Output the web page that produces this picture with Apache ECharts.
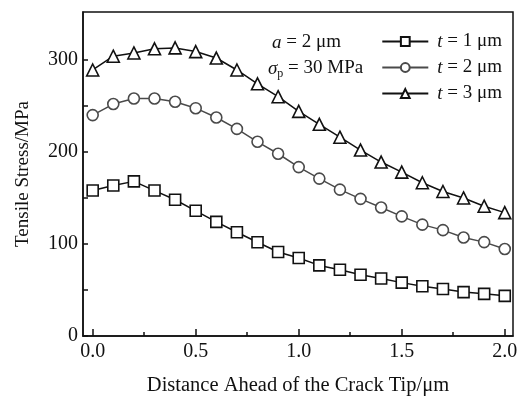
<!DOCTYPE html>
<html>
<head>
<meta charset="utf-8">
<script src="https://cdn.jsdelivr.net/npm/echarts@6/dist/echarts.min.js"></script>
<style>html,body{margin:0;padding:0;background:#fff;}#c{width:522px;height:397px;}</style>
</head>
<body>
<div id="c"></div>
<script>
const xValues = [0.0,0.1,0.2,0.3,0.4,0.5,0.6,0.7,0.8,0.9,1.0,1.1,1.2,1.3,1.4,1.5,1.6,1.7,1.8,1.9,2.0];
const t1 = [158,163.5,168,158,148,136,124,112.7,101.8,91.3,84.7,76.7,72,66.5,62.5,58,54,51,47.7,45.8,43.6];
const t2 = [240,252,258,258,254.5,247.5,237.4,225,211,198,183.5,171,159,149,139.6,130,121,115,107,102,94.5];
const t3 = [289,304,307.5,312,313,309,302,289,274,260,244,230,216,202,189,178,166.5,157,150,141,134];
const seriesNames = ['t = 1 μm','t = 2 μm','t = 3 μm'];
const xTickLabels = [0,0.5,1.0,1.5,2.0];
const xMinorTicks = [0.25,0.75,1.25,1.75];
const yTickLabels = [0,100,200,300];
const yTicks = [0,50,100,150,200,250,300];

const font = 'Liberation Serif';
function pairs(ys){ return xValues.map((x,i)=>[x,ys[i]]); }
const chart = echarts.init(document.getElementById('c'));
const black = '#111';
const gray = '#4a4a4a';
const mk = (name, data, color, symbol, size) => ({
  name, type:'line', data: pairs(data), xAxisIndex:0, yAxisIndex:0,
  symbol, symbolSize:size, showAllSymbol:true,
  lineStyle:{color, width:1.5},
  itemStyle:{color:'#fff', borderColor:color, borderWidth:1.6},
  emphasis:{disabled:true}, animation:false, z:3
});
chart.setOption({
  animation:false,
  grid:{left:83, top:12, right:9, bottom:61, outerBoundsMode:'none', containLabel:false, show:true, borderColor:black, borderWidth:1.5, backgroundColor:'transparent'},
  legend:{
    right:15, top:27, orient:'vertical', itemWidth:46, itemHeight:11, itemGap:7,
    data:seriesNames,
    textStyle:{fontFamily:font, fontSize:19, color:black, padding:[0,0,0,4],
      rich:{i:{fontFamily:font, fontStyle:'italic', fontSize:19, color:black}}},
    formatter: n => '{i|t}' + n.slice(1)
  },
  graphic:[
    {type:'text', left:272, top:33, style:{
      text:'{i|a} = 2 μm', fontFamily:font, fontSize:19, fill:black,
      rich:{i:{fontFamily:font, fontStyle:'italic', fontSize:19}}}},
    {type:'text', left:268, top:59, style:{
      text:'{i|σ}{s|p} = 30 MPa', fontFamily:font, fontSize:19, fill:black,
      rich:{i:{fontFamily:font, fontStyle:'italic', fontSize:19}, s:{fontFamily:font, fontSize:12, verticalAlign:'bottom', padding:[10,0,0,0]}}}}
  ],
  xAxis:[{
    type:'value', min:-0.047, max:2.04,
    name:'Distance Ahead of the Crack Tip/μm', nameLocation:'middle', nameGap:39,
    nameTextStyle:{fontFamily:font, fontSize:20.5, color:black},
    axisLine:{onZero:false, lineStyle:{color:black, width:1.5}},
    axisTick:{inside:true, length:7, lineStyle:{color:black, width:1.5}, customValues:xTickLabels},
    axisLabel:{fontFamily:font, fontSize:20, color:black, margin:6, customValues:xTickLabels, formatter:v=>v.toFixed(1)},
    splitLine:{show:false}
  },{
    type:'value', min:-0.047, max:2.04, position:'bottom',
    axisLine:{show:false, onZero:false},
    axisTick:{inside:true, length:4, lineStyle:{color:black, width:1.5}, customValues:xMinorTicks},
    axisLabel:{show:false, customValues:xMinorTicks},
    splitLine:{show:false}
  }],
  yAxis:{
    type:'value', min:0, max:352,
    name:'Tensile Stress/MPa', nameLocation:'middle', nameGap:50,
    nameTextStyle:{fontFamily:font, fontSize:19, color:black},
    axisLine:{show:true, onZero:false, lineStyle:{color:black, width:1.5}},
    axisTick:{show:true, inside:true, length:5, lineStyle:{color:black, width:1.5}, customValues:yTicks},
    axisLabel:{fontFamily:font, fontSize:20, color:black, margin:5, customValues:yTickLabels},
    splitLine:{show:false}
  },
  series:[
    mk(seriesNames[0], t1, black, 'rect', 11),
    mk(seriesNames[1], t2, gray, 'circle', 11),
    mk(seriesNames[2], t3, black, 'triangle', 12)
  ]
});
</script>
</body>
</html>
